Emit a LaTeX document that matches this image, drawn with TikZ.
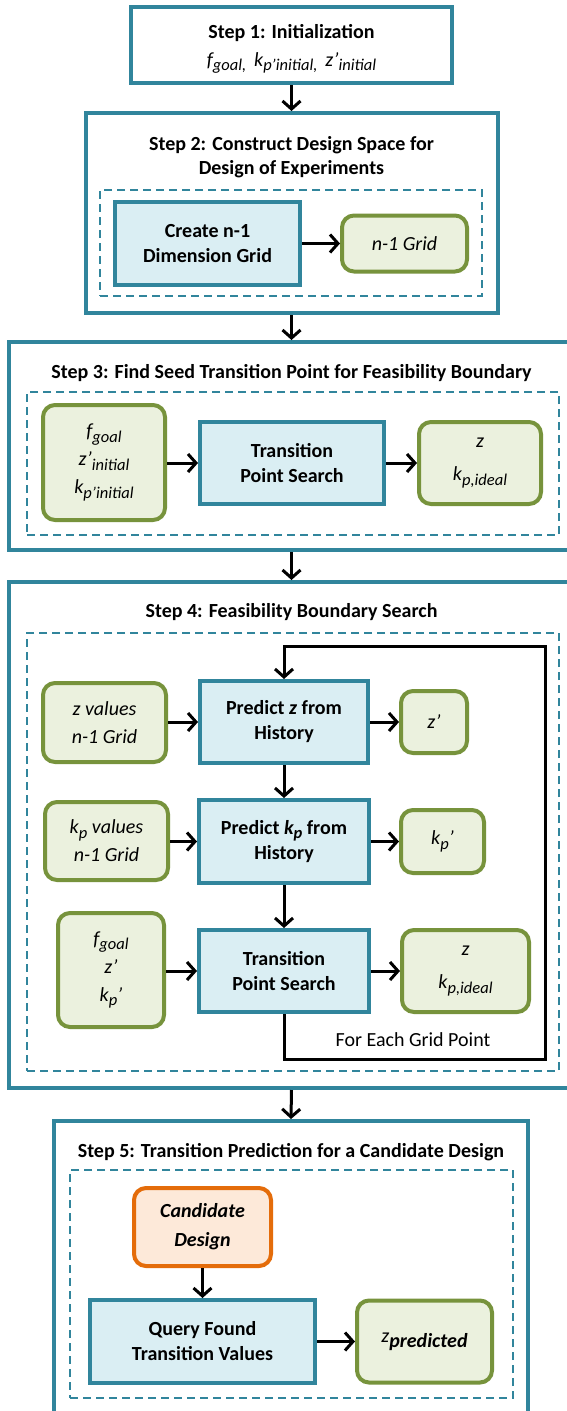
\documentclass[tikz,border=0pt]{standalone}
\usepackage{fontspec}
\setmainfont{Carlito}
\usetikzlibrary{arrows.meta}
\definecolor{tealc}{HTML}{31859C}
\definecolor{bluefill}{HTML}{DAEEF3}
\definecolor{greenc}{HTML}{77933C}
\definecolor{greenfill}{HTML}{EBF1DE}
\definecolor{orangec}{HTML}{E46C0A}
\definecolor{orangefill}{HTML}{FDE9D9}
\newcommand\lo[1]{\raisebox{-0.45ex}{\fontsize{16.5}{16.5}\selectfont #1}}
\tikzset{
  stepbox/.style={draw=tealc, line width=4pt, fill=white, inner sep=0pt},
  dashbox/.style={draw=tealc, line width=1.8pt, dash pattern=on 8pt off 5pt, inner sep=0pt},
  procbox/.style={draw=tealc, line width=4pt, fill=bluefill, align=center, font=\bfseries\fontsize{20}{25}\selectfont, inner sep=0pt},
  databox/.style={draw=greenc, line width=4pt, fill=greenfill, rounded corners=12pt, align=center, font=\itshape\fontsize{20}{28}\selectfont, inner sep=0pt},
  candbox/.style={draw=orangec, line width=4pt, fill=orangefill, rounded corners=12pt, align=center, font=\bfseries\itshape\fontsize{20}{29}\selectfont, inner sep=0pt},
  titletext/.style={align=center, font=\bfseries\fontsize{20}{24}\selectfont, inner sep=0pt},
  arr/.style={line width=3pt, -{Straight Barb[length=8pt,width=18pt,line width=3pt]}},
  plaintext/.style={font=\fontsize{20}{22}\selectfont, inner sep=0pt}
}
\begin{document}
\begin{tikzpicture}[x=1pt,y=-1pt]
\useasboundingbox (0,0) rectangle (566,1411);

% Step 1
\node[stepbox, minimum width=321pt, minimum height=76pt] (s1) at (291.5,45) {};
\node[align=center, inner sep=0pt, font=\fontsize{20}{28}\selectfont] (t1) at (291.5,49)
  {\textbf{Step 1: Initialization}\\\textit{f\lo{goal,}\, k\lo{p’initial,}\, z’\lo{initial}}};

% Step 2
\node[stepbox, minimum width=412pt, minimum height=200pt] (s2) at (291.5,213) {};
\node[titletext] (t2) at (291.5,157) {Step 2: Construct Design Space for\\Design of Experiments};
\node[dashbox, minimum width=382pt, minimum height=106pt] (d2) at (291,243) {};
\node[procbox, minimum width=185pt, minimum height=83pt] (create) at (207.5,243.5) {Create n-1\\Dimension Grid};
\node[databox, minimum width=125pt, minimum height=56pt] (grid) at (404.5,243.5) {n-1 Grid};
\draw[arr] (create.east) -- (grid.west);
\draw[arr] (s1.south) -- (s2.north);

% Step 3
\node[stepbox, minimum width=565pt, minimum height=208pt] (s3) at (291.5,446) {};
\node[titletext] (t3) at (291.5,373) {Step 3: Find Seed Transition Point for Feasibility Boundary};
\node[dashbox, minimum width=532pt, minimum height=143pt] (d3) at (293,463.5) {};
\node[databox, minimum width=122pt, minimum height=115pt] (in3) at (104,462.5)
  {f\lo{goal}\\z’\lo{initial}\\k\lo{p’initial}};
\node[procbox, minimum width=184pt, minimum height=82pt] (tps3) at (292,463) {Transition\\Point Search};
\node[databox, minimum width=122pt, minimum height=82pt, font=\itshape\fontsize{20}{33}\selectfont] (out3) at (480,463) {z\\k\lo{p,ideal}};
\draw[arr] (in3.east |- tps3.west) -- (tps3.west);
\draw[arr] (tps3.east) -- (out3.west);
\draw[arr] (s2.south) -- (s3.north);

% Step 4
\node[stepbox, minimum width=565pt, minimum height=506pt] (s4) at (291.5,835) {};
\node[titletext] (t4) at (291.5,612) {Step 4: Feasibility Boundary Search};
\node[dashbox, minimum width=532pt, minimum height=438pt] (d4) at (293,852) {};
\node[databox, minimum width=123pt, minimum height=79pt] (zval) at (104.5,722.5) {z values\\n-1 Grid};
\node[procbox, minimum width=168pt, minimum height=82pt] (predz) at (284,722) {Predict \textit{z} from\\History};
\node[databox, minimum width=66pt, minimum height=62pt] (zp) at (434,722) {z’};
\node[databox, minimum width=123pt, minimum height=78pt] (kval) at (106.5,841) {k\lo{p} values\\n-1 Grid};
\node[procbox, minimum width=170pt, minimum height=83pt] (predk) at (284,841.5) {Predict \textit{k\lo{p}} from\\History};
\node[databox, minimum width=83pt, minimum height=63pt] (kpp) at (442.5,841.5) {k\lo{p}’};
\node[databox, minimum width=106pt, minimum height=114pt] (in4) at (111,970) {f\lo{goal}\\z’\\k\lo{p}’};
\node[procbox, minimum width=170pt, minimum height=82pt] (tps4) at (284,971) {Transition\\Point Search};
\node[databox, minimum width=127pt, minimum height=82pt, font=\itshape\fontsize{20}{33}\selectfont] (out4) at (465.5,971) {z\\k\lo{p,ideal}};
\draw[arr] (zval.east |- predz.west) -- (predz.west);
\draw[arr] (predz.east) -- (zp.west);
\draw[arr] (kval.east |- predk.west) -- (predk.west);
\draw[arr] (predk.east) -- (kpp.west);
\draw[arr] (in4.east |- tps4.west) -- (tps4.west);
\draw[arr] (tps4.east) -- (out4.west);
\draw[arr] (predz.south) -- (predk.north);
\draw[arr] (predk.south) -- (tps4.north);
\coordinate (rb) at (545,1059);
\coordinate (rt) at (545,646);
\draw[arr] (tps4.south) |- (rb) -- (rt) -| (predz.north);
\node[plaintext] (each) at (413,1040) {For Each Grid Point};
\draw[arr] (s3.south) -- (s4.north);

% Step 5
\node[stepbox, minimum width=474pt, minimum height=300pt] (s5) at (291,1271) {};
\node[titletext] (t5) at (291,1152) {Step 5: Transition Prediction for a Candidate Design};
\node[dashbox, minimum width=443pt, minimum height=228pt] (d5) at (291.5,1284) {};
\node[candbox, minimum width=137pt, minimum height=78pt] (cand) at (202.5,1227) {Candidate\\Design};
\node[procbox, minimum width=225pt, minimum height=83pt] (query) at (202.5,1341.5) {Query Found\\Transition Values};
\node[databox, minimum width=135pt, minimum height=82pt] (zpred) at (424.5,1341.5) {z\raisebox{-0.5ex}{\bfseries predicted}};
\draw[arr] (cand.south) -- (query.north);
\draw[arr] (query.east) -- (zpred.west);
\draw[arr] (s4.south) -- (s5.north);
\end{tikzpicture}
\end{document}
